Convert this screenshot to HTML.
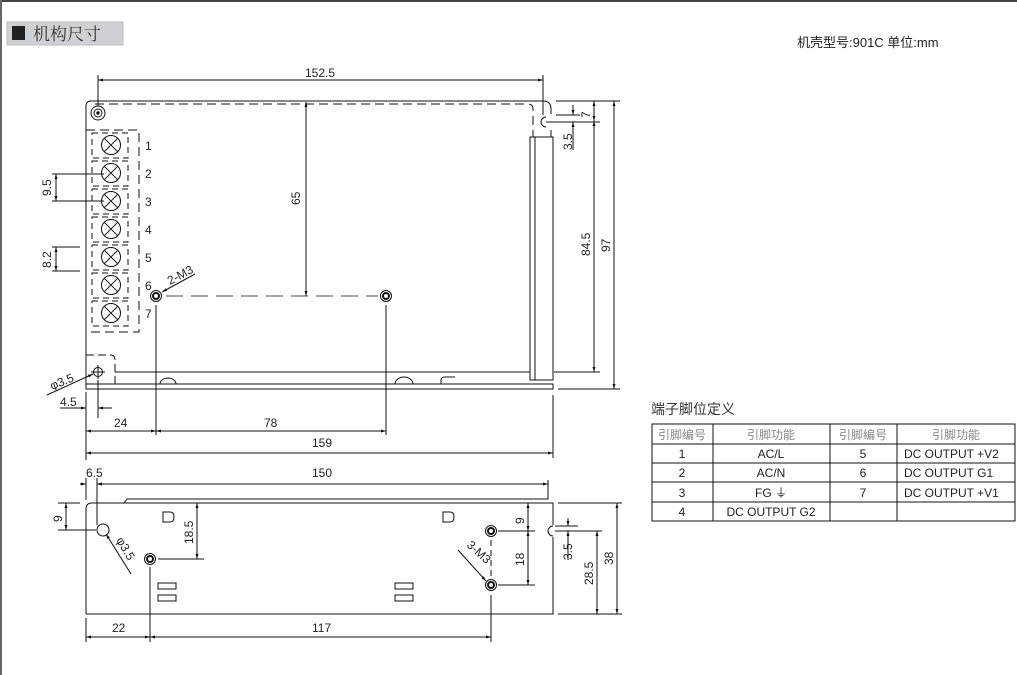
<!DOCTYPE html>
<html><head><meta charset="utf-8"><style>
html,body{margin:0;padding:0;background:#fff;}
svg{display:block;}
text{font-family:"Liberation Sans","Noto Sans CJK SC",sans-serif;fill:#222;}
</style></head><body>
<svg width="1017" height="675" viewBox="0 0 1017 675" xmlns="http://www.w3.org/2000/svg">
<defs>
<marker id="a" viewBox="0 0 10 10" refX="10" refY="5" markerWidth="7" markerHeight="5" orient="auto-start-reverse"><path d="M0,2 L10,5 L0,8z" fill="#111"/></marker>
</defs>
<rect x="0" y="0" width="1017" height="2" fill="#444"/>
<rect x="0" y="0" width="2" height="675" fill="#666"/>
<!-- title -->
<rect x="7" y="22" width="116" height="23" fill="#cfd0d2" stroke="#bbb"/>
<rect x="12" y="26" width="13" height="14" fill="#222"/>
<text x="33" y="40" font-size="17" style="fill:#333;font-family:'Noto Serif CJK SC','Noto Sans CJK SC',serif">机构尺寸</text>
<text x="797" y="47" font-size="13">机壳型号:901C 单位:mm</text>

<g stroke="#111" fill="none" stroke-width="1">
<!-- TOP VIEW body -->
<path d="M86,384 L86,106 Q86,101 91,101 L543,101 Q551,101 551,109 L551,114"/>
<path d="M551,130 L551,137"/>
<path d="M546,117 A5,5 0 0 0 546,127" />
<path d="M95,104 L528,104 Q533,104 533,109 L533,137" stroke-dasharray="9,5"/>
<rect x="530" y="137" width="23" height="243"/>
<line x1="535" y1="137" x2="535" y2="380"/>
<line x1="115" y1="372" x2="530" y2="372"/>
<rect x="86" y="384" width="467" height="5" stroke-width="1"/>
<path d="M160,384 A8,6 0 0 1 176,384 M395,384 A9,7 0 0 1 413,384 M441,384 L441,380 Q441,377 445,377 L455,377" />
<!-- top-left hole -->
<circle cx="98" cy="113" r="7"/><circle cx="98" cy="113" r="4"/><circle cx="98" cy="113" r="1.2" fill="#111"/>
<!-- terminal block -->
<rect x="86" y="130" width="53" height="202" stroke-dasharray="9,5"/>
<g stroke-dasharray="6,4">
<rect x="92" y="133" width="36" height="25"/><rect x="92" y="161" width="36" height="25"/><rect x="92" y="189" width="36" height="25"/><rect x="92" y="217" width="36" height="25"/><rect x="92" y="245" width="36" height="25"/><rect x="92" y="273" width="36" height="25"/><rect x="92" y="301" width="36" height="25"/>
</g>
<g id="t">
<circle cx="111" cy="145" r="9.5"/><path d="M104.3,138.3 L117.7,151.7 M117.7,138.3 L104.3,151.7"/>
</g>
<use href="#t" y="28"/><use href="#t" y="56"/><use href="#t" y="84"/><use href="#t" y="112"/><use href="#t" y="140"/><use href="#t" y="168"/>
<!-- M3 holes -->
<circle cx="156" cy="296" r="5.5"/><circle cx="156" cy="296" r="3" stroke-width="2"/>
<circle cx="386" cy="296" r="5.5"/><circle cx="386" cy="296" r="3" stroke-width="2"/>
<line x1="166" y1="296" x2="378" y2="296" stroke-dasharray="17,8" stroke-width="0.8"/>
<line x1="306" y1="102" x2="306" y2="296" marker-start="url(#a)" marker-end="url(#a)"/>
<line x1="195" y1="274" x2="162" y2="292" marker-end="url(#a)"/>
<!-- bottom-left hole -->
<path d="M86,355 L110,355 Q115,355 115,360 L115,384" stroke-dasharray="8,4"/>
<circle cx="98" cy="372" r="4.5"/><path d="M91,372 L105,372 M98,365 L98,379"/>
<line x1="47" y1="395" x2="93" y2="374" marker-end="url(#a)"/>
<!-- 152.5 -->
<line x1="98" y1="75" x2="98" y2="106"/><line x1="543" y1="75" x2="543" y2="115"/>
<line x1="98" y1="80" x2="543" y2="80" marker-start="url(#a)" marker-end="url(#a)"/>
<!-- left dims -->
<path d="M52,174 L104,174 M52,201 L104,201"/>
<line x1="56" y1="174" x2="56" y2="201" marker-start="url(#a)" marker-end="url(#a)"/>
<path d="M52,247 L80,247 M52,271 L80,271"/>
<line x1="56" y1="247" x2="56" y2="271" marker-start="url(#a)" marker-end="url(#a)"/>
<!-- bottom dims top view -->
<line x1="86" y1="392" x2="86" y2="460"/><line x1="98" y1="380" x2="98" y2="418"/>
<line x1="60" y1="408" x2="86" y2="408" marker-end="url(#a)"/>
<line x1="112" y1="408" x2="98" y2="408" marker-end="url(#a)"/>
<line x1="156" y1="305" x2="156" y2="435"/><line x1="386" y1="305" x2="386" y2="435"/>
<line x1="86" y1="431" x2="156" y2="431" marker-start="url(#a)" marker-end="url(#a)"/>
<line x1="156" y1="431" x2="386" y2="431" marker-start="url(#a)" marker-end="url(#a)"/>
<line x1="553" y1="395" x2="553" y2="458"/>
<line x1="86" y1="453" x2="553" y2="453" marker-start="url(#a)" marker-end="url(#a)"/>
<!-- right dims top view -->
<path d="M556,101 L620,101 M558,389 L620,389 M546,122 L600,122 M556,115 L580,115"/>
<line x1="594" y1="101" x2="594" y2="121" marker-start="url(#a)" marker-end="url(#a)"/>
<line x1="594" y1="121" x2="594" y2="372" marker-start="url(#a)" marker-end="url(#a)"/>
<line x1="554" y1="372" x2="600" y2="372"/>
<line x1="614" y1="101" x2="614" y2="389" marker-start="url(#a)" marker-end="url(#a)"/>
<line x1="573" y1="105" x2="573" y2="115" marker-end="url(#a)"/>
<line x1="573" y1="150" x2="573" y2="122" marker-end="url(#a)"/>

<!-- BOTTOM VIEW -->
<path d="M86,614 L86,509 Q86,503 92,503 L553,503 L553,525"/>
<path d="M553,537 L553,614 L86,614"/>
<path d="M124,503 L127,499 L548,499 L548,480"/>
<path d="M553,526 A5,5 0 0 0 553,536"/>
<circle cx="103" cy="530" r="6"/>
<circle cx="150" cy="559" r="5.5"/><circle cx="150" cy="559" r="3" stroke-width="2"/>
<circle cx="491" cy="531" r="5.5"/><circle cx="491" cy="531" r="3" stroke-width="2"/>
<circle cx="491" cy="585" r="5.5"/><circle cx="491" cy="585" r="3" stroke-width="2"/>
<path d="M163,512 L170,512 Q174,512 174,517 Q174,522 170,522 L163,522 Z"/>
<path d="M443,512 L450,512 Q454,512 454,517 Q454,522 450,522 L443,522 Z"/>
<rect x="158" y="583" width="18" height="6"/><rect x="158" y="595" width="18" height="6"/>
<rect x="395" y="583" width="18" height="6"/><rect x="395" y="595" width="18" height="6"/>
<!-- dims -->
<line x1="86" y1="478" x2="86" y2="500"/><line x1="97" y1="478" x2="97" y2="525"/>
<line x1="97" y1="484" x2="548" y2="484" marker-start="url(#a)" marker-end="url(#a)"/>
<line x1="80" y1="484" x2="86" y2="484" marker-end="url(#a)"/>
<line x1="105" y1="484" x2="97" y2="484" marker-end="url(#a)"/>
<path d="M58,503 L80,503 M58,530 L96,530"/>
<line x1="66" y1="503" x2="66" y2="530" marker-start="url(#a)" marker-end="url(#a)"/>
<line x1="131" y1="574" x2="106" y2="534" marker-end="url(#a)"/>
<line x1="158" y1="559" x2="204" y2="559"/>
<line x1="197" y1="503" x2="197" y2="559" marker-start="url(#a)" marker-end="url(#a)"/>
<line x1="498" y1="531" x2="535" y2="531"/><line x1="498" y1="585" x2="535" y2="585"/>
<line x1="528" y1="503" x2="528" y2="531" marker-start="url(#a)" marker-end="url(#a)"/>
<line x1="528" y1="531" x2="528" y2="585" marker-start="url(#a)" marker-end="url(#a)"/>
<line x1="458" y1="550" x2="486" y2="581" marker-end="url(#a)"/>
<line x1="491" y1="540" x2="491" y2="578" stroke-dasharray="6,4"/>
<line x1="150" y1="567" x2="150" y2="642"/><line x1="491" y1="595" x2="491" y2="642"/>
<line x1="86" y1="618" x2="86" y2="642"/>
<line x1="86" y1="637" x2="150" y2="637" marker-start="url(#a)" marker-end="url(#a)"/>
<line x1="150" y1="637" x2="491" y2="637" marker-start="url(#a)" marker-end="url(#a)"/>
<path d="M558,503 L622,503 M558,614 L622,614 M555,526 L578,526 M555,531 L602,531"/>
<line x1="568" y1="518" x2="568" y2="526" marker-end="url(#a)"/>
<line x1="568" y1="560" x2="568" y2="531" marker-end="url(#a)"/>
<line x1="597" y1="531" x2="597" y2="614" marker-start="url(#a)" marker-end="url(#a)"/>
<line x1="617" y1="503" x2="617" y2="614" marker-start="url(#a)" marker-end="url(#a)"/>
</g>

<!-- labels -->
<g font-size="12">
<text x="305" y="77">152.5</text>
<text x="145" y="150">1</text><text x="145" y="178">2</text><text x="145" y="206">3</text><text x="145" y="234">4</text><text x="145" y="262">5</text><text x="145" y="290">6</text><text x="145" y="318">7</text>
<text transform="translate(51,196) rotate(-90)">9.5</text>
<text transform="translate(51,268) rotate(-90)">8.2</text>
<text transform="translate(300,205) rotate(-90)">65</text>
<text transform="translate(170,285) rotate(-28)">2-M3</text>
<text transform="translate(52,390) rotate(-22)">φ3.5</text>
<text x="60" y="406">4.5</text>
<text x="114" y="427">24</text>
<text x="264" y="427">78</text>
<text x="312" y="447">159</text>
<text transform="translate(590,256) rotate(-90)">84.5</text>
<text transform="translate(610,252) rotate(-90)">97</text>
<text transform="translate(590,118) rotate(-90)">7</text>
<text transform="translate(572,150) rotate(-90)">3.5</text>
<text x="86" y="477">6.5</text>
<text x="312" y="477">150</text>
<text transform="translate(62,522) rotate(-90)">9</text>
<text transform="translate(193,544) rotate(-90)">18.5</text>
<text transform="translate(116,540) rotate(60)">φ3.5</text>
<text transform="translate(524,524) rotate(-90)">9</text>
<text transform="translate(524,566) rotate(-90)">18</text>
<text transform="translate(466,546) rotate(42)">3-M3</text>
<text transform="translate(572,560) rotate(-90)">3.5</text>
<text transform="translate(593,585) rotate(-90)">28.5</text>
<text transform="translate(613,565) rotate(-90)">38</text>
<text x="112" y="632">22</text>
<text x="312" y="632">117</text>
</g>

<!-- table -->
<text x="651" y="414" font-size="14" style="fill:#333">端子脚位定义</text>
<g stroke="#111" fill="none">
<rect x="652" y="424" width="363" height="97"/>
<path d="M652,444 L1015,444 M652,463 L1015,463 M652,482 L1015,482 M652,502 L1015,502 M713,424 L713,521 M830,424 L830,521 M897,424 L897,521"/>
</g>
<g font-size="12" text-anchor="middle">
<text x="682" y="439" style="fill:#888">引脚编号</text>
<text x="771" y="439" style="fill:#888">引脚功能</text>
<text x="863" y="439" style="fill:#888">引脚编号</text>
<text x="956" y="439" style="fill:#888">引脚功能</text>
<text x="682" y="458">1</text><text x="771" y="458">AC/L</text><text x="863" y="458">5</text>
<text x="682" y="477">2</text><text x="771" y="477">AC/N</text><text x="863" y="477">6</text>
<text x="682" y="497">3</text><text x="771" y="497">FG ⏚</text><text x="863" y="497">7</text>
<text x="682" y="516">4</text><text x="771" y="516">DC OUTPUT G2</text>
</g>
<g font-size="12">
<text x="904" y="458">DC OUTPUT +V2</text>
<text x="904" y="477">DC OUTPUT G1</text>
<text x="904" y="497">DC OUTPUT +V1</text>
</g>
</svg>
</body></html>
